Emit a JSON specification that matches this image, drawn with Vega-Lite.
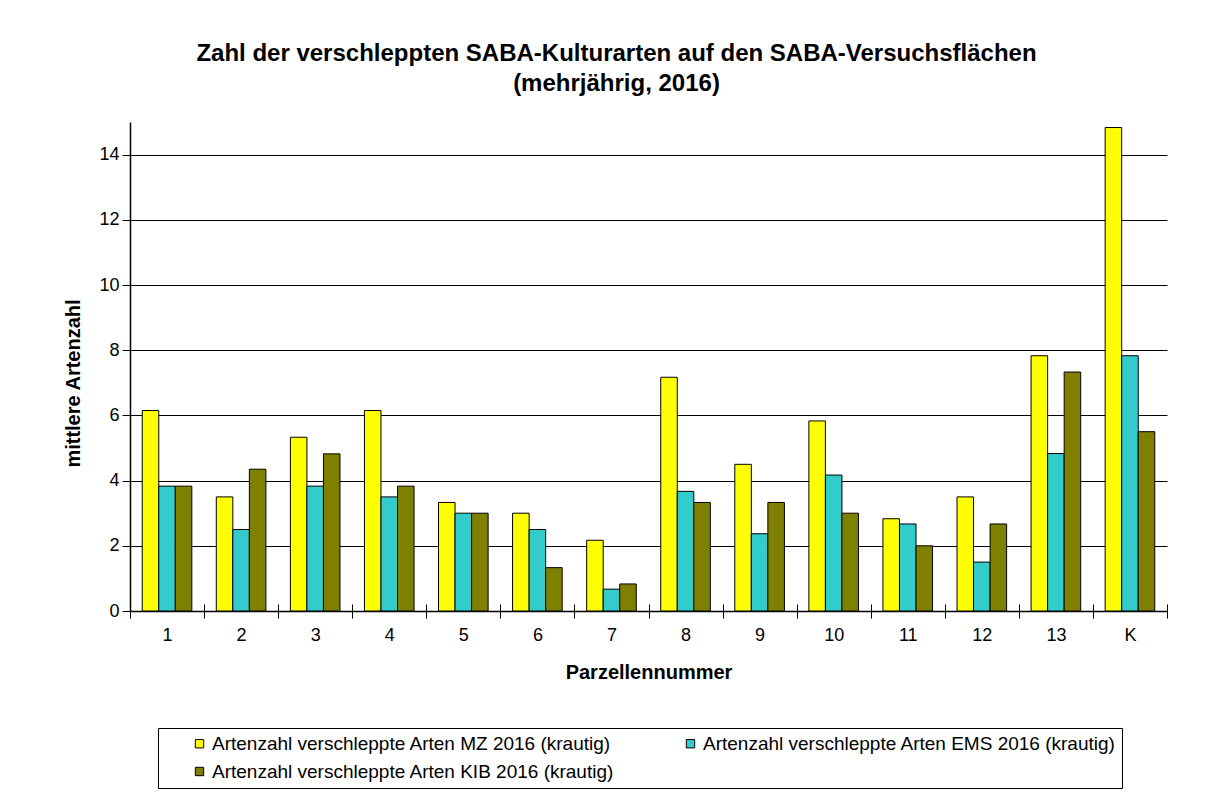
{
  "$schema": "https://vega.github.io/schema/vega-lite/v6.json",
  "width": 1037,
  "height": 489,
  "autosize": {"type": "none"},
  "padding": {"left": 130, "top": 122, "right": 40, "bottom": 190},
  "background": "white",
  "config": {
    "font": "Liberation Sans",
    "view": {"stroke": null},
    "axis": {"labelColor": "black", "titleColor": "black", "domainColor": "black", "tickColor": "black"}
  },
  "title": {
    "text": ["Zahl der verschleppten SABA-Kulturarten auf den SABA-Versuchsflächen", "(mehrjährig, 2016)"],
    "fontSize": 24,
    "fontWeight": "bold",
    "font": "Liberation Sans",
    "color": "black",
    "lineHeight": 30,
    "anchor": "middle",
    "dx": -32,
    "offset": 26
  },
  "data": {
    "values": [
      {"Parzelle": "1", "Serie": "Artenzahl verschleppte Arten MZ 2016 (krautig)", "Wert": 6.15},
      {"Parzelle": "1", "Serie": "Artenzahl verschleppte Arten EMS 2016 (krautig)", "Wert": 3.83},
      {"Parzelle": "1", "Serie": "Artenzahl verschleppte Arten KIB 2016 (krautig)", "Wert": 3.83},
      {"Parzelle": "2", "Serie": "Artenzahl verschleppte Arten MZ 2016 (krautig)", "Wert": 3.5},
      {"Parzelle": "2", "Serie": "Artenzahl verschleppte Arten EMS 2016 (krautig)", "Wert": 2.5},
      {"Parzelle": "2", "Serie": "Artenzahl verschleppte Arten KIB 2016 (krautig)", "Wert": 4.35},
      {"Parzelle": "3", "Serie": "Artenzahl verschleppte Arten MZ 2016 (krautig)", "Wert": 5.33},
      {"Parzelle": "3", "Serie": "Artenzahl verschleppte Arten EMS 2016 (krautig)", "Wert": 3.83},
      {"Parzelle": "3", "Serie": "Artenzahl verschleppte Arten KIB 2016 (krautig)", "Wert": 4.82},
      {"Parzelle": "4", "Serie": "Artenzahl verschleppte Arten MZ 2016 (krautig)", "Wert": 6.15},
      {"Parzelle": "4", "Serie": "Artenzahl verschleppte Arten EMS 2016 (krautig)", "Wert": 3.5},
      {"Parzelle": "4", "Serie": "Artenzahl verschleppte Arten KIB 2016 (krautig)", "Wert": 3.83},
      {"Parzelle": "5", "Serie": "Artenzahl verschleppte Arten MZ 2016 (krautig)", "Wert": 3.33},
      {"Parzelle": "5", "Serie": "Artenzahl verschleppte Arten EMS 2016 (krautig)", "Wert": 3.0},
      {"Parzelle": "5", "Serie": "Artenzahl verschleppte Arten KIB 2016 (krautig)", "Wert": 3.0},
      {"Parzelle": "6", "Serie": "Artenzahl verschleppte Arten MZ 2016 (krautig)", "Wert": 3.0},
      {"Parzelle": "6", "Serie": "Artenzahl verschleppte Arten EMS 2016 (krautig)", "Wert": 2.5},
      {"Parzelle": "6", "Serie": "Artenzahl verschleppte Arten KIB 2016 (krautig)", "Wert": 1.33},
      {"Parzelle": "7", "Serie": "Artenzahl verschleppte Arten MZ 2016 (krautig)", "Wert": 2.17},
      {"Parzelle": "7", "Serie": "Artenzahl verschleppte Arten EMS 2016 (krautig)", "Wert": 0.67},
      {"Parzelle": "7", "Serie": "Artenzahl verschleppte Arten KIB 2016 (krautig)", "Wert": 0.83},
      {"Parzelle": "8", "Serie": "Artenzahl verschleppte Arten MZ 2016 (krautig)", "Wert": 7.17},
      {"Parzelle": "8", "Serie": "Artenzahl verschleppte Arten EMS 2016 (krautig)", "Wert": 3.67},
      {"Parzelle": "8", "Serie": "Artenzahl verschleppte Arten KIB 2016 (krautig)", "Wert": 3.33},
      {"Parzelle": "9", "Serie": "Artenzahl verschleppte Arten MZ 2016 (krautig)", "Wert": 4.5},
      {"Parzelle": "9", "Serie": "Artenzahl verschleppte Arten EMS 2016 (krautig)", "Wert": 2.37},
      {"Parzelle": "9", "Serie": "Artenzahl verschleppte Arten KIB 2016 (krautig)", "Wert": 3.33},
      {"Parzelle": "10", "Serie": "Artenzahl verschleppte Arten MZ 2016 (krautig)", "Wert": 5.83},
      {"Parzelle": "10", "Serie": "Artenzahl verschleppte Arten EMS 2016 (krautig)", "Wert": 4.17},
      {"Parzelle": "10", "Serie": "Artenzahl verschleppte Arten KIB 2016 (krautig)", "Wert": 3.0},
      {"Parzelle": "11", "Serie": "Artenzahl verschleppte Arten MZ 2016 (krautig)", "Wert": 2.83},
      {"Parzelle": "11", "Serie": "Artenzahl verschleppte Arten EMS 2016 (krautig)", "Wert": 2.67},
      {"Parzelle": "11", "Serie": "Artenzahl verschleppte Arten KIB 2016 (krautig)", "Wert": 2.0},
      {"Parzelle": "12", "Serie": "Artenzahl verschleppte Arten MZ 2016 (krautig)", "Wert": 3.5},
      {"Parzelle": "12", "Serie": "Artenzahl verschleppte Arten EMS 2016 (krautig)", "Wert": 1.5},
      {"Parzelle": "12", "Serie": "Artenzahl verschleppte Arten KIB 2016 (krautig)", "Wert": 2.67},
      {"Parzelle": "13", "Serie": "Artenzahl verschleppte Arten MZ 2016 (krautig)", "Wert": 7.83},
      {"Parzelle": "13", "Serie": "Artenzahl verschleppte Arten EMS 2016 (krautig)", "Wert": 4.83},
      {"Parzelle": "13", "Serie": "Artenzahl verschleppte Arten KIB 2016 (krautig)", "Wert": 7.33},
      {"Parzelle": "K", "Serie": "Artenzahl verschleppte Arten MZ 2016 (krautig)", "Wert": 14.83},
      {"Parzelle": "K", "Serie": "Artenzahl verschleppte Arten EMS 2016 (krautig)", "Wert": 7.83},
      {"Parzelle": "K", "Serie": "Artenzahl verschleppte Arten KIB 2016 (krautig)", "Wert": 5.5}
    ]
  },
  "layer": [
    {
      "mark": {"type": "bar", "stroke": "black", "strokeWidth": 1},
      "encoding": {
        "x": {
          "field": "Parzelle", "type": "nominal", "sort": null,
          "scale": {"paddingInner": 0, "paddingOuter": 0},
          "axis": {
            "orient": "bottom",
            "title": "Parzellennummer",
            "titleFontSize": 20,
            "titleFontWeight": "bold",
            "titlePadding": 18,
            "labelAngle": 0,
            "labelFontSize": 18,
            "labelPadding": 8,
            "tickBand": "extent",
            "tickSize": 7,
            "domainWidth": 1.5
          }
        },
        "xOffset": {
          "field": "Serie", "type": "nominal", "sort": null,
          "scale": {"paddingInner": 0, "paddingOuter": 0.74}
        },
        "y": {
          "field": "Wert", "type": "quantitative", "stack": null,
          "scale": {"domain": [0, 15], "nice": false},
          "axis": {
            "title": "mittlere Artenzahl",
            "titleFontSize": 20,
            "titleFontWeight": "bold",
            "titlePadding": 15,
            "titleY": 261,
            "values": [0, 2, 4, 6, 8, 10, 12, 14],
            "labelFontSize": 18,
            "labelPadding": 3,
            "tickSize": 8,
            "grid": true,
            "gridColor": "black",
            "gridWidth": 1.2,
            "domainWidth": 1.5
          }
        },
        "color": {
          "field": "Serie", "type": "nominal", "sort": null,
          "scale": {"range": ["#FFFF00", "#33CCCC", "#808000"]},
          "legend": {
            "orient": "none",
            "legendX": 28,
            "legendY": 606,
            "direction": "horizontal",
            "columns": 2,
            "columnPadding": 66,
            "rowPadding": 8,
            "padding": 6,
            "strokeColor": "black",
            "fillColor": "white",
            "title": " ",
            "titleOrient": "left",
            "titleFontSize": 8,
            "titlePadding": 26,
            "symbolType": "square",
            "symbolSize": 70,
            "symbolStrokeColor": "black",
            "symbolStrokeWidth": 1,
            "symbolOpacity": 1,
            "labelFontSize": 19,
            "labelColor": "black",
            "labelOffset": 3,
            "labelLimit": 500
          }
        }
      }
    },
    {
      "mark": {"type": "bar", "opacity": 0},
      "encoding": {
        "x": {
          "field": "Parzelle", "type": "nominal", "sort": null,
          "axis": {
            "orient": "bottom",
            "offset": -7,
            "title": null,
            "labels": false,
            "domain": false,
            "tickBand": "extent",
            "tickSize": 7
          }
        },
        "y": {"field": "Wert", "type": "quantitative", "stack": null}
      }
    }
  ],
  "resolve": {"axis": {"x": "independent"}}
}
